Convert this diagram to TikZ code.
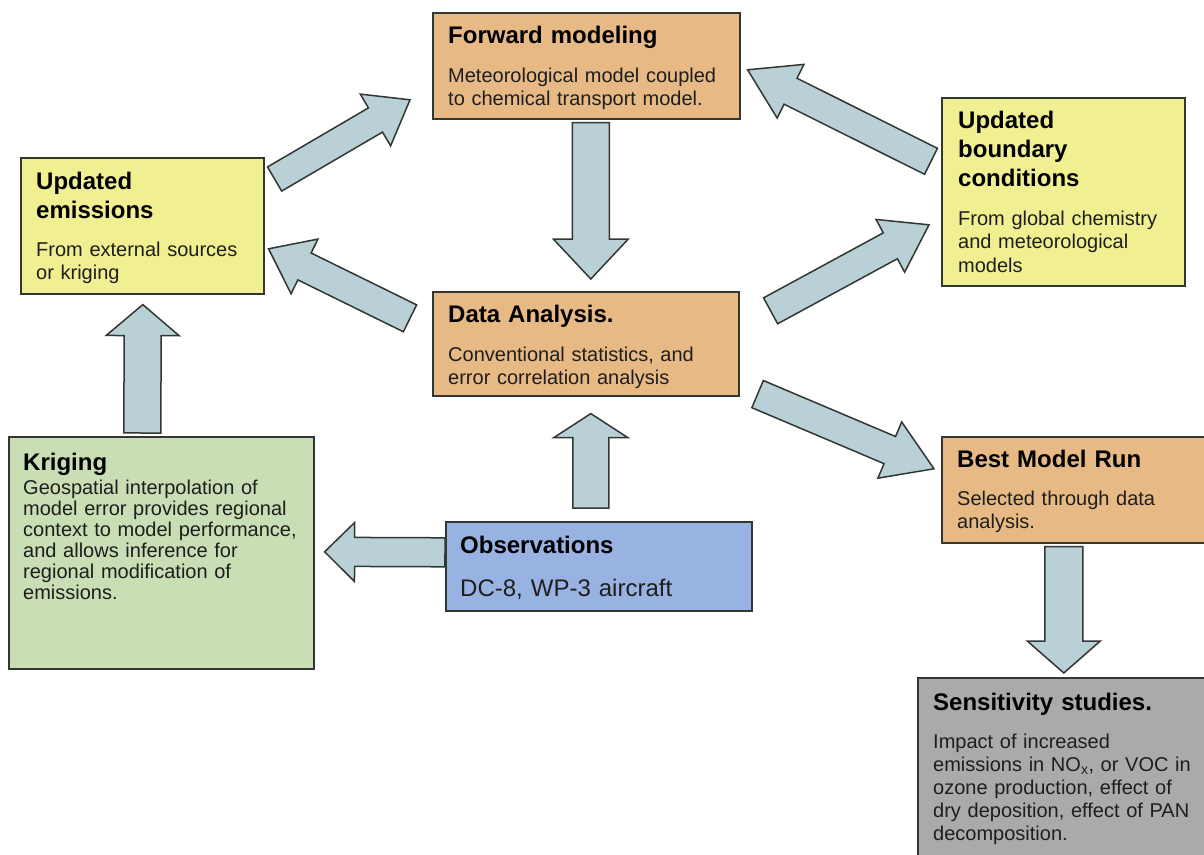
\documentclass[tikz,border=0pt]{standalone}
\usepackage{fontspec}
\setsansfont{Liberation Sans}
\usetikzlibrary{calc}

% Block arrow: tail, tip, half shaft width, half head width, head length
\newcommand{\fatarrow}[5]{%
    \coordinate (hb) at ($(#2)!#5pt!(#1)$);
    \draw[fatarrow] ($(#1)!#3pt!90:(#2)$) -- ($(hb)!#3pt!90:(#2)$) -- ($(hb)!#4pt!90:(#2)$) -- (#2)
        -- ($(hb)!#4pt!-90:(#2)$) -- ($(hb)!#3pt!-90:(#2)$) -- ($(#1)!#3pt!-90:(#2)$) -- cycle;
}

\begin{document}
\begin{tikzpicture}[x=1pt, y=-1pt, font=\sffamily,
    box/.style={draw=edgecolor, line width=1.6pt, anchor=north west, inner sep=0pt},
    title/.style={anchor=base west, inner sep=0pt, text width=300pt, align=left,
        text=black, font=\sffamily\bfseries\fontsize{24}{29}\selectfont},
    body/.style={anchor=base west, inner sep=0pt, text width=300pt, align=left,
        text=textcolor, font=\sffamily\fontsize{20}{23.5}\selectfont},
    fatarrow/.style={draw=edgecolor, line width=1.5pt, fill=arrowfill, line join=miter}]
    % Define colors
    \definecolor{tanfill}{RGB}{231,185,133}
    \definecolor{yellowfill}{RGB}{240,240,146}
    \definecolor{greenfill}{RGB}{201,222,180}
    \definecolor{bluefill}{RGB}{152,178,226}
    \definecolor{grayfill}{RGB}{170,170,170}
    \definecolor{arrowfill}{RGB}{184,208,214}
    \definecolor{edgecolor}{RGB}{50,55,50}
    \definecolor{textcolor}{RGB}{30,30,30}

    \useasboundingbox (0,0) rectangle (1204,854);

    % Forward modeling
    \node[box, fill=tanfill, minimum width=307pt, minimum height=106pt] (fwd) at (432,12) {};
    \node[title] (fwdtitle) at (448,43) {Forward modeling};
    \node[body] (fwdtext) at (448,82) {Meteorological model coupled\\to chemical transport model.};

    % Data analysis
    \node[box, fill=tanfill, minimum width=306pt, minimum height=104pt] (data) at (432,291) {};
    \node[title] (datatitle) at (448,322) {Data Analysis.};
    \node[body] (datatext) at (448,361) {Conventional statistics, and\\error correlation analysis};

    % Updated emissions
    \node[box, fill=yellowfill, minimum width=243pt, minimum height=136pt] (emis) at (20,157) {};
    \node[title] (emistitle) at (36,189) {Updated\\emissions};
    \node[body] (emistext) at (36,256) {From external sources\\or kriging};

    % Updated boundary conditions
    \node[box, fill=yellowfill, minimum width=243pt, minimum height=188pt] (bnd) at (941,97) {};
    \node[title] (bndtitle) at (958,128) {Updated\\boundary\\conditions};
    \node[body] (bndtext) at (958,225) {From global chemistry\\and meteorological\\models};

    % Kriging
    \node[box, fill=greenfill, minimum width=305pt, minimum height=232pt] (krig) at (8,436) {};
    \node[title] (krigtitle) at (23,470) {Kriging};
    \node[body, font=\sffamily\fontsize{20}{21}\selectfont] (krigtext) at (23,494)
        {Geospatial interpolation of\\model error provides regional\\context to model performance,\\and allows inference for\\regional modification of\\emissions.};

    % Observations
    \node[box, fill=bluefill, minimum width=306pt, minimum height=89pt] (obs) at (445,521) {};
    \node[title] (obstitle) at (460,553) {Observations};
    \node[body, font=\sffamily\fontsize{24}{29}\selectfont] (obstext) at (460,596) {DC-8, WP-3 aircraft};

    % Best model run
    \node[box, fill=tanfill, minimum width=274pt, minimum height=106pt] (best) at (941,436) {};
    \node[title] (besttitle) at (957,467) {Best Model Run};
    \node[body] (besttext) at (957,505) {Selected through data\\analysis.};

    % Sensitivity studies
    \node[box, fill=grayfill, minimum width=298pt, minimum height=200pt] (sens) at (917,677) {};
    \node[title] (senstitle) at (933,710) {Sensitivity studies.};
    \node[body, font=\sffamily\fontsize{20}{23}\selectfont] (senstext) at (933,748)
        {Impact of increased\\emissions in NO\textsubscript{x}, or VOC in\\ozone production, effect of\\dry deposition, effect of PAN\\decomposition.};

    % Arrows
    \coordinate (ef1) at ($(emis.north east)+(10,22)$);
    \coordinate (ef2) at ($(fwd.west)+(-22,34)$);
    \fatarrow{ef1}{ef2}{14}{30}{40}

    \coordinate (fd1) at ($(fwd.south)+(4.5,3)$);
    \coordinate (fd2) at ($(data.north)+(5,-12)$);
    \fatarrow{fd1}{fd2}{18.5}{37.5}{40}

    \coordinate (bf1) at ($(bnd.west)+(-10,-30.5)$);
    \coordinate (bf2) at ($(fwd.east)+(7,4)$);
    \fatarrow{bf1}{bf2}{14.5}{30}{48}

    \coordinate (de1) at ($(data.west)+(-22,-25.5)$);
    \coordinate (de2) at ($(emis.east)+(4,23)$);
    \fatarrow{de1}{de2}{15}{30.5}{40}

    \coordinate (db1) at ($(data.east)+(31,-33)$);
    \coordinate (db2) at ($(bnd.west)+(-12,33)$);
    \fatarrow{db1}{db2}{14.75}{30}{44}

    \coordinate (dr1) at ($(data.south east)+(18,-2.5)$);
    \coordinate (dr2) at ($(best.west)+(-7,-21)$);
    \fatarrow{dr1}{dr2}{14.75}{30.5}{48}

    \coordinate (ke1) at ($(krig.north)+(-19,-3)$);
    \coordinate (ke2) at ($(emis.south)+(0.5,10)$);
    \fatarrow{ke1}{ke2}{18.5}{36.5}{31}

    \coordinate (od1) at ($(obs.north)+(-8,-13)$);
    \coordinate (od2) at ($(data.south)+(5,17)$);
    \fatarrow{od1}{od2}{18}{37}{24}

    \coordinate (ok1) at ($(obs.west)+(0,-14)$);
    \coordinate (ok2) at ($(krig.east)+(10,-1)$);
    \fatarrow{ok1}{ok2}{14.5}{29.5}{30}

    \coordinate (bs1) at ($(best.south)+(-15,3)$);
    \coordinate (bs2) at ($(sens.north)+(-3,-4)$);
    \fatarrow{bs1}{bs2}{19}{36.5}{32}

\end{tikzpicture}
\end{document}
